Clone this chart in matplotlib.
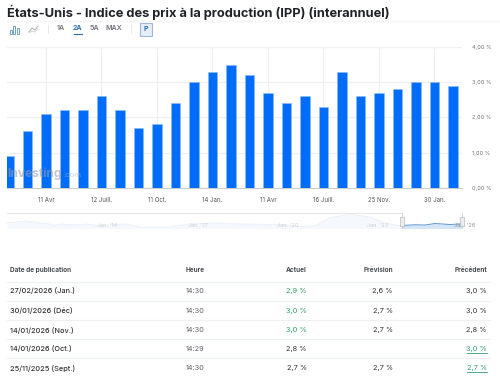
import matplotlib
matplotlib.use("Agg")
import matplotlib.pyplot as plt
from matplotlib.patches import Rectangle

plt.rcParams['font.family'] = ['Inter', 'DejaVu Sans']

W, H = 500, 376

values = [0.9, 1.6, 2.1, 2.2, 2.2, 2.6, 2.2, 1.7, 1.8, 2.4, 3.0, 3.3, 3.5,
          3.2, 2.7, 2.4, 2.6, 2.3, 3.3, 2.6, 2.7, 2.8, 3.0, 3.0, 2.9]
tick_idx = [2, 5, 8, 11, 14, 17, 20, 23]
tick_labels = ["11 Avr", "12 Juill.", "11 Oct.", "14 Jan.", "11 Avr", "16 Juill.", "25 Nov.", "30 Jan."]
y_ticks = [0, 1, 2, 3, 4]
y_labels = ["0,00 %", "1,00 %", "2,00 %", "3,00 %", "4,00 %"]

nav_x = [7, 25, 50, 53, 60, 80, 85, 100, 125, 140, 170, 190, 215, 240, 280, 300, 315, 330, 350, 370, 385, 398, 402]
nav_y = [223, 221, 224, 225.5, 224, 225, 224, 225.5, 224, 227, 227, 224, 223, 224, 224.5, 226.5, 226, 217.5, 214.3, 217, 223, 225.5, 225.5]
sel_x = [402, 415, 425, 435, 450, 462]
sel_y = [225.5, 224.8, 225, 223.5, 224.5, 223.8]

rows_date = ["27/02/2026 (Jan.)", "30/01/2026 (Déc)", "14/01/2026 (Nov.)", "14/01/2026 (Oct.)", "25/11/2025 (Sept.)"]
rows_time = ["14:30", "14:30", "14:30", "14:29", "14:30"]
rows_actual = ["2,9 %", "3,0 %", "3,0 %", "2,8 %", "2,7 %"]
rows_fcst = ["2,6 %", "2,7 %", "2,7 %", "", "2,7 %"]
rows_prev = ["3,0 %", "3,0 %", "2,8 %", "3,0 %", "2,7 %"]
actual_green = [True, True, True, False, False]
prev_green = [False, False, False, True, True]

BLUE = "#006CFA"
GREEN = "#2E9E6B"
DARK = "#333333"
GREY = "#5F6368"
GRID = "#EFEFF1"

fig = plt.figure(figsize=(W / 100, H / 100), dpi=100, facecolor="white")

bg = fig.add_axes([0, 0, 1, 1])
bg.set_xlim(0, W)
bg.set_ylim(H, 0)
bg.axis("off")

bg.text(7, 12, "États-Unis - Indice des prix à la production (IPP) (interannuel)",
        fontsize=9.25, fontweight="bold", color="#1F2328", va="center", ha="left")
bg.plot([7, 500], [21, 21], color="#F5F5F5", lw=1)

# Toolbar
for x0, h in [(9.5, 4), (13, 8), (16.5, 6)]:
    bg.add_patch(Rectangle((x0, 33.5 - h), 2.2, h, fill=False, ec="#5B93C9", lw=0.6))
bg.plot([29, 32, 35, 38], [32, 28, 30, 26], color="#B5B8BC", lw=0.8)
bg.plot([29, 32, 35, 38], [33, 31, 32, 29], color="#D5D7DA", lw=0.7)
bg.plot([48, 48], [25, 33], color="#E8E8E8", lw=0.7)
bg.plot([131, 131], [25, 33], color="#E8E8E8", lw=0.7)
for x, t, c in [(61, "1A", "#7A7F85"), (77.5, "2A", "#2B6CB0"), (94, "5A", "#7A7F85"), (114, "MAX", "#7A7F85")]:
    bg.text(x, 28.5, t, fontsize=5, fontweight="bold", color=c, ha="center", va="center")
bg.plot([73.5, 81.5], [33.5, 33.5], color="#2B6CB0", lw=0.8)
bg.add_patch(Rectangle((139.5, 22.5), 12, 13, fc="#E6EEF7", ec="#9DB8D6", lw=0.8))
bg.text(145.5, 29, "P", fontsize=5, fontweight="bold", color="#2B6CB0", ha="center", va="center")

# Main chart
ax = fig.add_axes([7 / W, 1 - 187.6 / H, 455 / W, 140.3 / H], facecolor="none")
ax.set_xlim((7 - 9) / 18.5, (462 - 9) / 18.5)
ax.set_ylim(0, 4)
ax.set_axisbelow(True)
ax.grid(True, color=GRID, lw=0.9)
ax.bar(range(len(values)), values, width=0.52, color=BLUE, edgecolor="#8DBBFB", lw=0.4, zorder=3)
ax.set_xticks(tick_idx, tick_labels)
ax.set_yticks(y_ticks, y_labels)
ax.yaxis.tick_right()
ax.tick_params(axis="x", length=0, pad=7, labelsize=4.4, labelcolor="#55595E")
ax.tick_params(axis="y", length=0, pad=7, labelsize=4.0, labelcolor="#6B6F74")
for s in ["top", "left", "right"]:
    ax.spines[s].set_visible(False)
ax.spines["bottom"].set_color("#C9CCD1")
ax.spines["bottom"].set_linewidth(0.8)

# Watermark overlay above the bars
top = fig.add_axes([0, 0, 1, 1], facecolor="none")
top.set_xlim(0, W)
top.set_ylim(H, 0)
top.axis("off")
top.text(7, 174, "Investing", fontsize=8.6, fontweight="bold", color="#9A9FA5", alpha=0.6, va="center")
top.text(63, 175, ".com", fontsize=5.5, color="#B5B9BE", alpha=0.6, va="center")

# Navigator
bg.plot([7, 402], [213.4, 213.4], color="#E4E5E7", lw=0.8)
nav_base = 228.5
bg.fill_between(nav_x, nav_y, nav_base, color="#F5F8FD", lw=0)
bg.plot(nav_x, nav_y, color="#E8EFF8", lw=0.6)
for x, t in [(107, "Jan. '14"), (198, "Jan. '17"), (288, "Jan. '20"), (378, "Jan. '23"), (465, "Jan. '26")]:
    bg.text(x, 225.2, t, fontsize=4.0, color="#CDD0D4" if x < 450 else "#8A8E93", ha="center", va="center")
bg.fill_between(sel_x, sel_y, nav_base, color="#D5E5F8", lw=0)
bg.plot(sel_x, sel_y, color="#5E93D1", lw=0.7)
for x in [402, 461.7]:
    bg.plot([x, x], [213, 228], color="#C9CCD1", lw=0.6)
    bg.add_patch(Rectangle((x - 2, 216.8), 4, 9, fc="#EDEEF0", ec="#B8BBC0", lw=0.5, zorder=5))

# Table
ys = [291, 310.7, 330, 349, 368]
hdr = dict(fontsize=4.7, fontweight="bold", color="#4A4E53", va="center")
bg.text(10.5, 270.4, "Date de publication", **hdr)
bg.text(186, 270.4, "Heure", **hdr)
bg.text(307, 270.4, "Actuel", ha="right", **hdr)
bg.text(393.3, 270.4, "Prévision", ha="right", **hdr)
bg.text(487, 270.4, "Précédent", ha="right", **hdr)
for y in [281.7, 300.7, 320, 339, 358]:
    bg.plot([7, 490], [y, y], color="#EEF0F3", lw=0.9)
for i, y in enumerate(ys):
    bg.text(10.5, y, rows_date[i], fontsize=5.3, fontweight="medium", color=DARK, va="center")
    bg.text(186, y, rows_time[i], fontsize=5.3, color=GREY, va="center")
    bg.text(307, y, rows_actual[i], fontsize=5.3, color=GREEN if actual_green[i] else DARK, va="center", ha="right")
    bg.text(393, y, rows_fcst[i], fontsize=5.3, color=DARK, va="center", ha="right")
    bg.text(487, y, rows_prev[i], fontsize=5.3, color=GREEN if prev_green[i] else DARK, va="center", ha="right")
    if prev_green[i]:
        bg.plot([467, 487], [y + 4.3, y + 4.3], color=GREEN, lw=0.6)

fig.savefig("out.png", dpi=100, facecolor="white")
